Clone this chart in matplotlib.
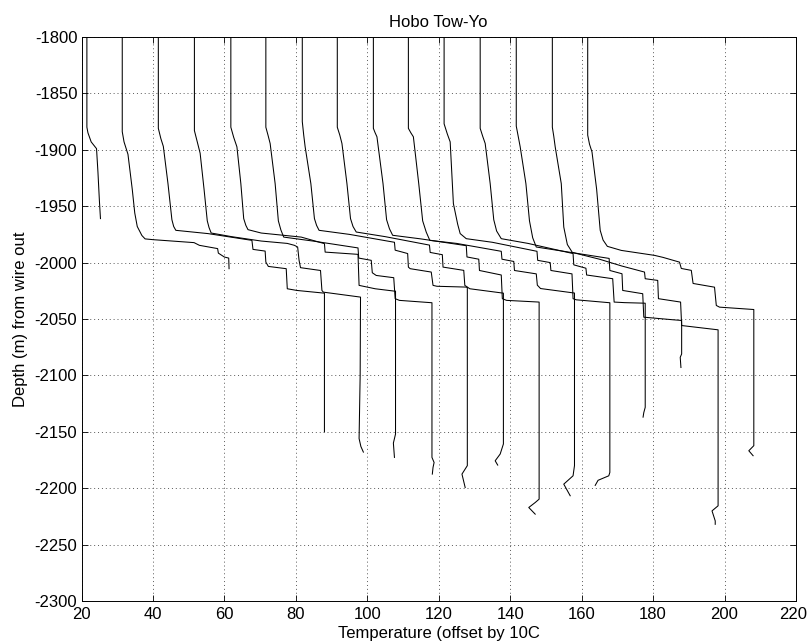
import matplotlib
matplotlib.use("Agg")
import matplotlib.pyplot as plt
import matplotlib.transforms as mtransforms

plt.rcParams['font.family'] = ['Liberation Sans', 'DejaVu Sans']
plt.rcParams['axes.unicode_minus'] = False

# temperature (offset by 10 per cast) and depth of each tow-yo cast
t00 = [21.5, 21.5, 21.8, 22.7, 24.2, 24.6, 25.0, 25.3]
z00 = [-1800, -1880, -1885, -1893, -1899, -1920, -1945, -1961]

t01 = [31.4, 31.4, 31.9, 33.0, 34.2, 34.9, 35.6, 36.9, 37.8, 40.1, 51.5, 53.0, 58.1, 58.3, 60.0, 61.2, 61.3]
z01 = [-1800, -1884, -1893, -1904, -1935, -1956, -1968, -1976, -1979, -1979.7, -1982.3, -1984.7, -1987.6,
       -1991.6, -1995.1, -1996, -2005.4]

t02 = [41.5, 41.5, 42.2, 42.9, 44.2, 45.3, 45.8, 46.4, 55.4, 67.7, 68.0, 71.4, 71.6, 72.3, 77.3, 77.6, 80.3, 88.0, 88.0]
z02 = [-1800, -1881, -1890, -1897, -1930, -1962, -1968, -1971.4, -1974.3, -1980.3, -1988.3, -1989.8, -1999.6,
       -2003.4, -2005.4, -2023.2, -2024.7, -2027.1, -2150]

t03 = [51.6, 51.6, 52.4, 53.2, 54.3, 55.2, 55.7, 56.3, 62, 70.3, 77.6, 79.6, 80.5, 80.9, 81.3, 86.9, 87.3, 87.7,
       98.1, 98.0, 97.7, 98.2, 98.9]
z03 = [-1800, -1883, -1893, -1903, -1935, -1963, -1969, -1973.8, -1977, -1980.9, -1983, -1984.7, -1986.2, -1998,
       -2004.5, -2007, -2024.7, -2026.2, -2030.6, -2100, -2156, -2163, -2168]

t04 = [61.8, 61.8, 62.6, 63.5, 64.6, 65.4, 66.0, 66.6, 70.3, 81.5, 88.0, 88.2, 97.4, 97.5, 97.7, 102.2, 107.6,
       107.9, 107.9, 107.3, 107.6]
z04 = [-1800, -1880, -1889, -1897.4, -1930, -1961, -1967, -1970.8, -1973.8, -1977.4, -1983.2, -1990.7, -1992.7,
       -2002.5, -2020.2, -2023.2, -2025.3, -2025.3, -2152, -2160, -2172.7]

t05 = [71.6, 71.6, 72.2, 72.8, 74.2, 75.1, 75.8, 76.6, 85.0, 97.4, 97.6, 101.1, 101.4, 102.5, 107.4, 107.8, 109.0,
       118.1, 118.1, 118.7, 118.4, 118.2]
z05 = [-1800, -1880, -1887, -1894.4, -1930, -1963, -1971, -1977.4, -1981, -1987, -1996, -1998, -2009, -2011.4,
       -2013.4, -2032, -2033.5, -2035.6, -2172.7, -2177.2, -2181.6, -2187.5]

t06 = [81.8, 81.8, 82.2, 82.6, 84.2, 85.2, 85.8, 86.5, 95.0, 107.6, 107.8, 109.7, 111.3, 111.5, 112.0, 117.9,
       118.4, 119.5, 127.5, 128.0, 128.0, 126.5, 127.4]
z06 = [-1800, -1875, -1887, -1897.4, -1930, -1961, -1967, -1971.4, -1975, -1982, -1989, -1990.6, -1992, -2004,
       -2005.4, -2008.4, -2020.2, -2021.0, -2021.7, -2022, -2180, -2187.5, -2199.4]

t07 = [91.6, 91.6, 92.3, 92.9, 94.3, 95.3, 96.0, 96.9, 105.0, 117.4, 117.6, 121.0, 121.2, 127.0, 127.3, 128.7,
       138.1, 138.1, 137.2, 135.8, 136.5]
z07 = [-1800, -1880, -1887, -1894.4, -1930, -1961, -1968, -1972.9, -1977, -1984.5, -1991, -1993, -2004, -2006.9,
       -2020.2, -2023.2, -2027.1, -2160.8, -2169.7, -2175.7, -2179.5]

t08 = [101.7, 101.7, 102.2, 102.7, 104.4, 105.4, 106.2, 107.1, 115.0, 127.7, 127.9, 131.2, 131.4, 137.5, 137.8,
       139.0, 148.1, 148.1, 147.0, 145.2, 147.0]
z08 = [-1800, -1881, -1885, -1888.5, -1930, -1962, -1970, -1975.8, -1979, -1985, -1995, -1997, -2007, -2011,
       -2032, -2033.5, -2035, -2209.7, -2212.7, -2217.1, -2223]

t09 = [111.5, 111.5, 112.2, 112.9, 114.4, 115.5, 116.5, 117.5, 125.0, 137.5, 137.7, 141.0, 141.2, 147.3, 147.6,
       148.5, 158.0, 158.0, 157.6, 155.0, 156.8]
z09 = [-1800, -1881, -1885, -1888.5, -1930, -1963, -1973, -1980.3, -1983, -1990, -1997, -1999, -2007, -2010,
       -2020, -2023, -2027, -2180, -2189, -2196.4, -2206.7]

t10 = [121.5, 121.5, 122.4, 123.2, 124.1, 125.3, 126.0, 127.7, 135.0, 147.5, 147.7, 151.2, 151.4, 157.3, 157.6,
       158.5, 167.9, 167.9, 167.6, 164.6, 163.8]
z10 = [-1800, -1877, -1886, -1893, -1947.7, -1966, -1974.3, -1978.8, -1982, -1990, -1998, -2000, -2007, -2010,
       -2032, -2033, -2035.6, -2186, -2189, -2193, -2197.5]

t11 = [131.6, 131.6, 132.3, 133.0, 134.4, 135.4, 136.2, 137.5, 145.0, 157.6, 157.8, 161.2, 161.4, 168.7, 169.1,
       172.0, 177.8, 177.8, 177.4, 177.2]
z11 = [-1800, -1881, -1888, -1894.4, -1930, -1962, -1972, -1978.8, -1983, -1992, -2002, -2005, -2011, -2014.3,
       -2035, -2035.5, -2036, -2128.3, -2133, -2137]

t12 = [141.7, 141.7, 142.3, 142.8, 144.4, 145.4, 146.3, 147.3, 155.0, 167.7, 167.9, 171.3, 171.5, 177.1, 177.4,
       185.6, 188.0, 188.0, 187.6, 187.8]
z12 = [-1800, -1879, -1889, -1897.4, -1930, -1963, -1978, -1986.2, -1990, -1996.3, -2007, -2009.9, -2024.7,
       -2027.6, -2048.4, -2050.7, -2051.3, -2081, -2084, -2093]

t13 = [151.8, 151.8, 152.2, 152.6, 154.3, 155.0, 156.0, 157.4, 165.0, 171.2, 177.6, 177.8, 181.3, 181.5, 187.7,
       188.0, 198.2, 198.2, 196.5, 197.4, 197.4]
z13 = [-1800, -1880, -1888, -1897.4, -1930, -1968.5, -1984, -1991, -1997, -2003, -2008.4, -2014.3, -2015.8,
       -2032, -2035, -2055.8, -2059.6, -2215.6, -2220.1, -2229, -2232]

t14 = [161.7, 161.7, 162.2, 162.9, 164.2, 165.2, 166.0, 167.2, 171.1, 180.4, 182.8, 187.4, 187.9, 190.7, 191.2,
       197.2, 197.7, 198.6, 208.2, 208.2, 206.8, 208.0]
z14 = [-1800, -1887, -1895, -1901.9, -1935, -1971.4, -1980, -1985.6, -1989.2, -1993.6, -1995.4, -1999.6, -2005.2,
       -2006.9, -2018.5, -2021.8, -2038, -2039.5, -2041.6, -2162.3, -2166.8, -2171.2]

casts = [(t00, z00), (t01, z01), (t02, z02), (t03, z03), (t04, z04), (t05, z05), (t06, z06), (t07, z07),
         (t08, z08), (t09, z09), (t10, z10), (t11, z11), (t12, z12), (t13, z13), (t14, z14)]

xticks = [20, 40, 60, 80, 100, 120, 140, 160, 180, 200, 220]
yticks = [-2300, -2250, -2200, -2150, -2100, -2050, -2000, -1950, -1900, -1850, -1800]

fig = plt.figure(figsize=(8.08, 6.43), dpi=100)
ax = fig.add_axes([0.1009, 0.0653, 0.8842, 0.8772])

for t, z in casts:
    ax.plot(t, z, color='k', linewidth=0.75)

ax.set_xlim(20, 220)
ax.set_ylim(-2300, -1800)
ax.set_xticks(xticks)
ax.set_yticks(yticks)
ax.grid(True, linestyle=(0, (1, 3)), color='0.35', linewidth=0.7)
ax.tick_params(direction='in', top=True, right=True, length=4, width=0.6, labelsize=12)
ax.tick_params(axis='x', pad=4)
ax.tick_params(axis='y', pad=3)
for s in ax.spines.values():
    s.set_linewidth(0.7)

# keep the last x tick label inside the figure edge
last = ax.get_xticklabels()[-1]
last.set_transform(last.get_transform() + mtransforms.ScaledTranslation(-3 / 100, 0, fig.dpi_scale_trans))

ax.set_title('Hobo Tow-Yo', fontsize=12, pad=7)
ax.set_xlabel('Temperature (offset by 10C', fontsize=12, labelpad=3)
ax.set_ylabel('Depth (m) from wire out', fontsize=12, labelpad=5)

fig.savefig('out.png', dpi=100)
